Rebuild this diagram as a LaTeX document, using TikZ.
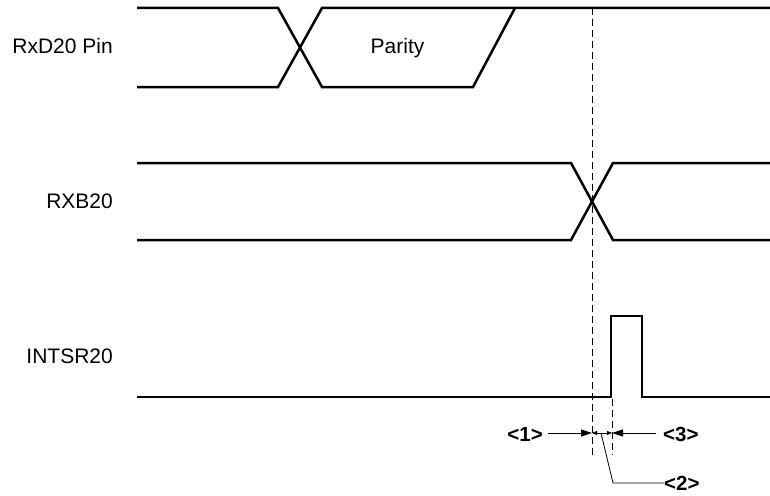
\documentclass[tikz,border=0pt]{standalone}
\usepackage{fontspec}
\setmainfont{Liberation Sans}
\usetikzlibrary{arrows.meta}
\begin{document}
\begin{tikzpicture}[x=1pt,y=-1pt,
  sig/.style={line width=2.5pt,line join=miter},
  guide/.style={line width=0.9pt,dash pattern=on 7pt off 4pt},
  dim/.style={line width=0.8pt},
  lbl/.style={font=\fontsize{21}{25}\selectfont,inner sep=0pt,anchor=base east},
  tag/.style={font=\bfseries\fontsize{20.5}{24}\selectfont,inner sep=0pt},
  tip/.style={-{Triangle[length=11pt,width=7pt]}},
  smalltip/.style={{Triangle[length=5pt,width=4pt]}-{Triangle[length=5pt,width=4pt]}}]
\useasboundingbox (0,0) rectangle (770,495);
% labels
\node[lbl] (lrxd) at (113,53) {RxD20 Pin};
\node[lbl] (lrxb) at (113,208) {RXB20};
\node[lbl] (lint) at (113,363) {INTSR20};
\node[font=\fontsize{21}{25}\selectfont,inner sep=0pt,anchor=base] (par) at (397.5,53) {Parity};
% RxD20 Pin
\draw[sig] (137,8) -- (278,8) -- (322,87) -- (473,87) -- (515,8);
\draw[sig] (137,87) -- (278,87) -- (322,8) -- (770,8);
% RXB20
\draw[sig] (137,163) -- (571,163) -- (613,240) -- (770,240);
\draw[sig] (137,240) -- (571,240) -- (613,163) -- (770,163);
% INTSR20
\draw[sig] (137,397) -- (611,397) -- (611,316) -- (642,316) -- (642,397) -- (770,397);
% guides
\coordinate (g1t) at (592,8);
\coordinate (g1b) at (592,455);
\coordinate (g2t) at (612,399);
\coordinate (g2b) at (612,455);
\draw[guide] (g1t) -- (g1b);
\draw[guide] (g2t) -- (g2b);
% dimension arrows
\node[tag,anchor=east] (t1) at (543,434) {<1>};
\node[tag,anchor=west] (t3) at (663,434) {<3>};
\node[tag,anchor=west] (t2) at (664,483) {<2>};
\coordinate (a1) at (592,433);
\coordinate (a2) at (612,433);
\coordinate (k2) at (613,483);
\draw[dim,tip] (548,433) -- (a1);
\draw[dim,tip] (656,433) -- (a2);
\draw[dim,smalltip] (a1) -- (a2);
\draw[dim] (601,433) -- (k2) -- (t2.west);
\end{tikzpicture}
\end{document}
